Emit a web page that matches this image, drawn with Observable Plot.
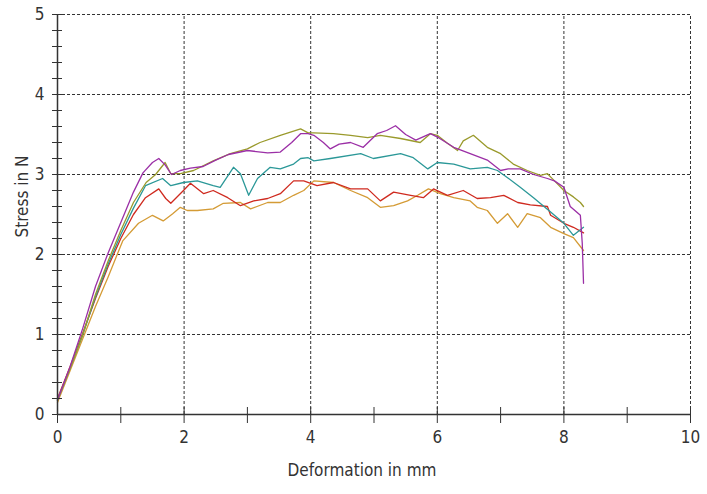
<!DOCTYPE html>
<html>
<head>
<meta charset="utf-8">
<script src="https://cdn.jsdelivr.net/npm/d3@7"></script>
<script src="https://cdn.jsdelivr.net/npm/@observablehq/plot@0.6"></script>
<style>
  html, body { margin: 0; padding: 0; background: #fff; }
  #chart svg { display: block; }
</style>
</head>
<body>
<div id="chart"></div>
<script>
// ---- Data ----
const purpleX = [0,0.2,0.4,0.6,0.8,1.0,1.2,1.35,1.5,1.6,1.7,1.8,1.94,2.1,2.3,2.5,2.7,3.0,3.32,3.52,3.7,3.84,3.96,4.05,4.2,4.31,4.45,4.63,4.83,5.05,5.2,5.34,5.5,5.66,5.89,6.02,6.26,6.52,6.79,7.0,7.12,7.31,7.52,7.74,7.85,8.0,8.1,8.26,8.29,8.31];
const purpleY = [0.18,0.6,1.08,1.6,2.02,2.4,2.78,3.02,3.15,3.2,3.12,3.0,3.05,3.08,3.1,3.18,3.25,3.3,3.27,3.28,3.4,3.51,3.51,3.49,3.4,3.32,3.38,3.4,3.34,3.51,3.55,3.61,3.5,3.43,3.51,3.46,3.34,3.26,3.18,3.05,3.07,3.07,3.0,2.95,2.92,2.84,2.6,2.49,2.14,1.64];

const oliveX = [0,0.2,0.4,0.6,0.8,1.0,1.2,1.4,1.55,1.7,1.79,1.94,2.15,2.46,2.73,3.0,3.2,3.52,3.84,3.96,4.05,4.36,4.63,4.9,5.1,5.42,5.73,5.89,6.0,6.16,6.32,6.41,6.57,6.79,7.0,7.2,7.42,7.63,7.74,7.84,8.0,8.15,8.26,8.31];
const oliveY = [0.18,0.58,1.0,1.5,1.92,2.3,2.65,2.9,3.0,3.15,3.01,3.01,3.05,3.17,3.26,3.32,3.4,3.49,3.57,3.52,3.52,3.51,3.49,3.46,3.49,3.45,3.4,3.51,3.49,3.39,3.3,3.42,3.49,3.34,3.26,3.13,3.05,2.99,3.01,2.93,2.8,2.72,2.65,2.6];

const tealX = [0,0.2,0.4,0.6,0.8,1.0,1.2,1.39,1.66,1.79,1.99,2.21,2.46,2.57,2.78,2.89,3.02,3.16,3.36,3.52,3.73,3.84,3.96,4.05,4.31,4.79,4.99,5.42,5.62,5.85,6.0,6.26,6.52,6.79,6.95,7.11,7.31,7.52,7.79,8.0,8.15,8.31];
const tealY = [0.18,0.58,1.0,1.47,1.88,2.25,2.58,2.86,2.95,2.86,2.9,2.92,2.86,2.84,3.09,3.01,2.74,2.95,3.09,3.07,3.13,3.2,3.21,3.17,3.2,3.26,3.2,3.26,3.21,3.07,3.15,3.13,3.07,3.09,3.05,2.96,2.84,2.71,2.53,2.39,2.24,2.34];

const redX = [0,0.2,0.4,0.6,0.8,1.0,1.2,1.39,1.6,1.71,1.79,1.99,2.1,2.31,2.46,2.69,2.89,3.1,3.32,3.52,3.73,3.89,4.0,4.1,4.36,4.63,4.9,5.1,5.31,5.58,5.78,5.94,6.16,6.41,6.63,6.84,7.05,7.27,7.47,7.74,7.79,8.0,8.15,8.31];
const redY = [0.2,0.6,1.02,1.45,1.85,2.2,2.5,2.71,2.82,2.7,2.64,2.8,2.89,2.76,2.8,2.71,2.61,2.67,2.7,2.76,2.92,2.92,2.89,2.86,2.9,2.82,2.82,2.67,2.78,2.74,2.71,2.82,2.74,2.8,2.7,2.71,2.74,2.65,2.62,2.6,2.49,2.39,2.34,2.27];

const orangeX = [0,0.2,0.4,0.6,0.8,1.03,1.28,1.5,1.67,1.82,1.94,2.05,2.21,2.46,2.62,2.89,3.05,3.32,3.52,3.73,3.89,4.05,4.36,4.63,4.9,5.1,5.31,5.53,5.69,5.86,6.05,6.26,6.52,6.63,6.79,6.95,7.11,7.27,7.42,7.63,7.79,8.0,8.15,8.31];
const orangeY = [0.15,0.55,0.95,1.35,1.72,2.17,2.39,2.49,2.42,2.51,2.59,2.55,2.55,2.57,2.64,2.65,2.57,2.65,2.65,2.74,2.8,2.92,2.9,2.8,2.71,2.59,2.61,2.67,2.74,2.82,2.76,2.71,2.67,2.59,2.55,2.39,2.51,2.34,2.51,2.46,2.34,2.26,2.21,2.05];

const seriesNames = ["orange", "red", "teal", "olive", "purple"];
const seriesColors = ["#d49b35", "#cf2a1f", "#2b9898", "#9a9a2c", "#9b2fa6"];
const xTicksMajor = [0, 2, 4, 6, 8, 10];
const xTicksMinor = [0, 1, 2, 3, 4, 5, 6, 7, 8, 9, 10];
const yTicksMajor = [0, 1, 2, 3, 4, 5];
const yTicksMinor = d3.range(0, 26).map(i => i / 5);
const xGrid = [2, 4, 6, 8, 10];
const yGrid = [1, 2, 3, 4, 5];
const xLabel = "Deformation in mm";
const yLabel = "Stress in N";

// ---- Build table ----
const seriesXY = {
  orange: [orangeX, orangeY],
  red: [redX, redY],
  teal: [tealX, tealY],
  olive: [oliveX, oliveY],
  purple: [purpleX, purpleY]
};
const rows = seriesNames.flatMap((name, k) => {
  const [xs, ys] = seriesXY[name];
  return xs.map((x, i) => ({series: name, color: seriesColors[k], x, y: ys[i]}));
});

const font = "'Liberation Sans Narrow', 'DejaVu Sans Condensed', 'Liberation Sans', Arial, sans-serif";

const chart = Plot.plot({
  width: 707,
  height: 494,
  marginLeft: 57,
  marginRight: 17,
  marginTop: 14,
  marginBottom: 80,
  style: {fontFamily: font, fontSize: "16px", color: "#333", background: "#fff"},
  x: {domain: [0, 10]},
  y: {domain: [0, 5]},
  marks: [
    Plot.ruleY(yGrid, {x1: 0, x2: 10, stroke: "#333", strokeWidth: 1, strokeDasharray: "3,2"}),
    Plot.ruleX(xGrid, {y1: 0, y2: 5, stroke: "#333", strokeWidth: 1, strokeDasharray: "3,2"}),
    Plot.line(rows, {x: "x", y: "y", z: "series", stroke: d => d.color, strokeWidth: 1.3}),
    Plot.ruleX([0], {y1: 0, y2: 5, stroke: "#333", strokeWidth: 1.5}),
    Plot.ruleY([0], {x1: 0, x2: 10, stroke: "#333", strokeWidth: 1.5}),
    Plot.axisY({ticks: yTicksMinor, tickSize: 10, dx: 5, tickFormat: () => "", label: null, stroke: "#333"}),
    Plot.axisY({ticks: yTicksMajor, tickSize: 0, tickPadding: 13, tickFormat: d => String(d), label: null, fontSize: 17}),
    Plot.axisX({ticks: xTicksMinor, tickSize: 16, dy: -7, tickFormat: () => "", label: null, stroke: "#333"}),
    Plot.axisX({ticks: xTicksMajor, tickSize: 0, tickPadding: 16, tickFormat: d => String(d), label: null, fontSize: 17}),
    Plot.text([xLabel], {frameAnchor: "bottom", dy: 61, dx: -12, fontSize: 17, fill: "#333"}),
    Plot.text([yLabel], {frameAnchor: "left", rotate: -90, dx: -35, dy: 23, fontSize: 17, fill: "#333"})
  ]
});
document.getElementById("chart").append(chart);
</script>
</body>
</html>
